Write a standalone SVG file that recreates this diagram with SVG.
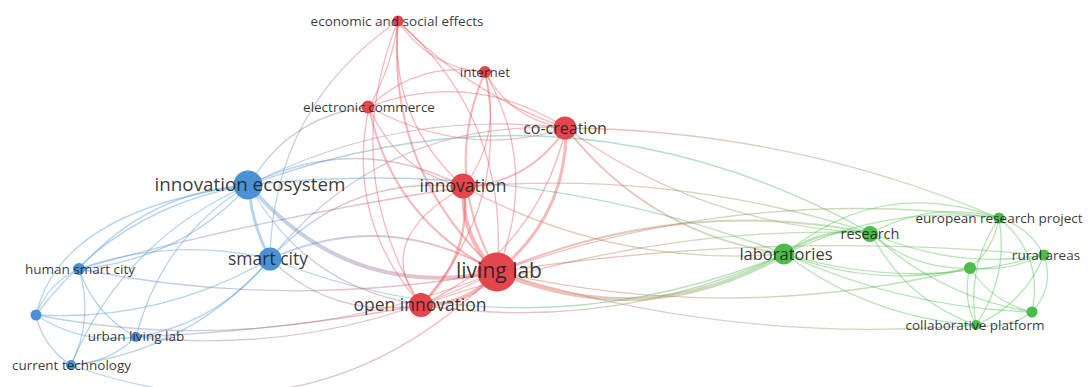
<svg xmlns="http://www.w3.org/2000/svg" width="1091" height="387" viewBox="0 0 1091 387">
<style>
.e path{fill:none;stroke-linecap:round}
.r{stroke:#e8474c;stroke-opacity:.38;stroke-width:1.3}
.b{stroke:#4a93d5;stroke-opacity:.4;stroke-width:1.3}
.g{stroke:#4fbf4f;stroke-opacity:.42;stroke-width:1.3}
.br{stroke:url(#gbr);stroke-opacity:.38;stroke-width:1.3}
.rg{stroke:url(#grg);stroke-opacity:.38;stroke-width:1.3}
.bg{stroke:url(#gbg);stroke-opacity:.42;stroke-width:1.3}
.nr{fill:#e3474d}
.nb{fill:#4a92d3}
.ng{fill:#4cbd4c}
text{font-family:"Open Sans","Liberation Sans",sans-serif;fill:#1e1e1e;fill-opacity:.9;text-anchor:middle}
.s{font-size:13.5px}
</style>
<defs>
<linearGradient id="gbr" x1="0" y1="0" x2="1" y2="0"><stop offset="0" stop-color="#4a93d5"/><stop offset="1" stop-color="#e8474c"/></linearGradient>
<linearGradient id="grg" x1="0" y1="0" x2="1" y2="0"><stop offset="0" stop-color="#e8474c"/><stop offset="1" stop-color="#4fbf4f"/></linearGradient>
<linearGradient id="gbg" x1="0" y1="0" x2="1" y2="0"><stop offset="0" stop-color="#4a93d5"/><stop offset="1" stop-color="#4fbf4f"/></linearGradient>
</defs>
<g id="connectors" class="e">
<path class="r" d="M398,21 Q392,67 369,107"/>
<path class="r" d="M398,21 Q429,68 485,72"/>
<path class="r" d="M398,21 Q389,120 464,187"/>
<path class="r" style="stroke-width:2" d="M398,21 Q386,170 497,272"/>
<path class="r" d="M398,21 Q510,120 497,272"/>
<path class="r" d="M398,21 Q469,94 566,128"/>
<path class="r" d="M398,21 Q338,169 421,305"/>
<path class="r" d="M369,107 Q418,60 485,72"/>
<path class="r" d="M369,107 Q472,68 566,128"/>
<path class="r" d="M369,107 Q467,160 566,128"/>
<path class="r" d="M369,107 Q396,171 464,187"/>
<path class="r" style="stroke-width:2" d="M369,107 Q392,220 497,272"/>
<path class="r" d="M369,107 Q345,219 421,305"/>
<path class="r" d="M485,72 Q511,120 566,128"/>
<path class="r" d="M464,187 Q503,135 485,72"/>
<path class="r" style="stroke-width:2" d="M485,72 Q441,174 497,272"/>
<path class="r" d="M485,72 Q540,169 497,272"/>
<path class="r" d="M421,305 Q511,204 485,72"/>
<path class="r" style="stroke-width:2" d="M464,187 Q530,183 566,128"/>
<path class="r" style="stroke-width:3" d="M497,272 Q567,216 566,128"/>
<path class="r" d="M421,305 Q537,252 566,128"/>
<path class="r" style="stroke-width:4" d="M464,187 Q460,237 497,272"/>
<path class="r" style="stroke-width:2.5" d="M421,305 Q472,257 464,187"/>
<path class="r" d="M464,187 Q370,240 421,305"/>
<path class="r" style="stroke-width:4" d="M421,305 Q468,306 497,272"/>
<path class="b" style="stroke-width:3" d="M249,185 Q251,223 270,259"/>
<path class="b" d="M79,269 Q147,192 249,185"/>
<path class="b" d="M79,269 Q181,260 249,185"/>
<path class="b" d="M36,315 Q116,207 249,185"/>
<path class="b" d="M36,315 Q60,210 249,185"/>
<path class="b" d="M136,337 Q162,237 249,185"/>
<path class="b" d="M71,365 Q124,239 249,185"/>
<path class="b" d="M79,269 Q172,236 270,259"/>
<path class="b" d="M36,315 Q160,322 270,259"/>
<path class="b" d="M136,337 Q217,324 270,259"/>
<path class="b" d="M71,365 Q190,351 270,259"/>
<path class="b" d="M36,315 Q48,283 79,269"/>
<path class="b" d="M79,269 Q94,314 136,337"/>
<path class="b" d="M71,365 Q94,319 79,269"/>
<path class="b" d="M36,315 Q82,345 136,337"/>
<path class="b" d="M36,315 Q43,347 71,365"/>
<path class="b" d="M71,365 Q109,363 136,337"/>
<path class="br" style="stroke-width:4" d="M249,185 Q347,301 497,272"/>
<path class="br" d="M249,185 Q357,131 464,187"/>
<path class="br" d="M249,185 Q399,108 566,128"/>
<path class="br" d="M249,185 Q290,115 369,107"/>
<path class="br" d="M249,185 Q305,287 421,305"/>
<path class="br" style="stroke-width:2" d="M270,259 Q385,207 497,272"/>
<path class="br" d="M270,259 Q333,320 421,305"/>
<path class="br" d="M270,259 Q348,174 464,187"/>
<path class="br" d="M270,259 Q384,119 566,128"/>
<path class="br" d="M270,259 Q273,107 398,21"/>
<path class="br" d="M79,269 Q288,311 497,272"/>
<path class="br" d="M79,269 Q250,220 464,187"/>
<path class="br" d="M36,315 Q273,361 497,272"/>
<path class="br" d="M71,365 Q314,453 497,272"/>
<path class="br" d="M136,337 Q326,357 497,272"/>
<path class="br" d="M136,337 Q290,330 421,305"/>
<path class="rg" style="stroke-width:4" d="M497,272 Q645,334 785,254"/>
<path class="rg" style="stroke-width:2" d="M497,272 Q678,195 871,233"/>
<path class="rg" d="M497,272 Q742,184 999,218"/>
<path class="rg" d="M497,272 Q733,326 970,268"/>
<path class="rg" d="M497,272 Q731,345 976,325"/>
<path class="rg" d="M497,272 Q770,230 1044,255"/>
<path class="rg" style="stroke-width:2" d="M566,128 Q650,235 785,254"/>
<path class="rg" d="M566,128 Q703,226 871,233"/>
<path class="rg" d="M566,128 Q791,130 999,218"/>
<path class="rg" d="M464,187 Q614,268 785,254"/>
<path class="rg" d="M464,187 Q672,169 871,233"/>
<path class="rg" d="M421,305 Q611,334 785,254"/>
<path class="rg" d="M421,305 Q653,224 871,233"/>
<path class="bg" d="M249,185 Q571,66 871,233"/>
<path class="bg" d="M249,185 Q525,155 785,254"/>
<path class="bg" d="M270,259 Q527,359 785,254"/>
<path class="g" style="stroke-width:2.5" d="M785,254 Q824,226 871,233"/>
<path class="g" d="M785,254 Q887,204 999,218"/>
<path class="g" d="M785,254 Q880,175 999,218"/>
<path class="g" d="M785,254 Q914,293 1044,255"/>
<path class="g" d="M785,254 Q875,289 970,268"/>
<path class="g" d="M785,254 Q870,318 976,325"/>
<path class="g" d="M785,254 Q903,308 1032,312"/>
<path class="g" d="M871,233 Q932,200 999,218"/>
<path class="g" d="M871,233 Q954,270 1044,255"/>
<path class="g" d="M871,233 Q913,270 970,268"/>
<path class="g" d="M871,233 Q905,300 976,325"/>
<path class="g" d="M871,233 Q940,297 1032,312"/>
<path class="g" d="M999,218 Q1029,227 1044,255"/>
<path class="g" d="M970,268 Q994,249 999,218"/>
<path class="g" d="M976,325 Q966,267 999,218"/>
<path class="g" d="M976,325 Q1009,276 999,218"/>
<path class="g" d="M999,218 Q1044,255 1032,312"/>
<path class="g" d="M970,268 Q1009,272 1044,255"/>
<path class="g" d="M976,325 Q1024,304 1044,255"/>
<path class="g" d="M1032,312 Q1055,287 1044,255"/>
<path class="g" d="M970,268 Q962,298 976,325"/>
<path class="g" d="M970,268 Q992,302 1032,312"/>
<path class="g" d="M976,325 Q1007,330 1032,312"/>
</g>
<g id="n-economic-and-social-effects"><circle class="nr" cx="398" cy="21" r="5.5"/><text class="s" x="397" y="25.5">economic and social effects</text></g>
<g id="n-internet"><circle class="nr" cx="485" cy="72" r="6"/><text class="s" x="485" y="76.5">internet</text></g>
<g id="n-electronic-commerce"><circle class="nr" cx="368" cy="107" r="6.5"/><text class="s" x="369" y="111.5">electronic commerce</text></g>
<g id="n-co-creation"><circle class="nr" cx="565" cy="128" r="11.5"/><text x="565" y="133.5" font-size="16">co-creation</text></g>
<g id="n-innovation"><circle class="nr" cx="463" cy="186" r="12.5"/><text x="463" y="192" font-size="17.5">innovation</text></g>
<g id="n-living-lab"><circle class="nr" cx="497" cy="272" r="19.5"/><text x="499" y="277.5" font-size="21">living lab</text></g>
<g id="n-open-innovation"><circle class="nr" cx="421" cy="305" r="12"/><text x="420" y="311" font-size="17.5">open innovation</text></g>
<g id="n-innovation-ecosystem"><circle class="nb" cx="248" cy="185" r="14.5"/><text x="250" y="191" font-size="18.8">innovation ecosystem</text></g>
<g id="n-smart-city"><circle class="nb" cx="270" cy="259" r="11.5"/><text x="268" y="265" font-size="17.5">smart city</text></g>
<g id="n-human-smart-city"><circle class="nb" cx="79" cy="269" r="6"/><text class="s" x="80" y="273.5">human smart city</text></g>
<g id="n-b1"><circle class="nb" cx="36" cy="315" r="5.5"/></g>
<g id="n-urban-living-lab"><circle class="nb" cx="136" cy="337" r="5"/><text class="s" x="136" y="341">urban living lab</text></g>
<g id="n-current-technology"><circle class="nb" cx="71" cy="365" r="5"/><text class="s" x="71.5" y="369.5">current technology</text></g>
<g id="n-laboratories"><circle class="ng" cx="784" cy="254" r="10.5"/><text x="786" y="259.5" font-size="16.5">laboratories</text></g>
<g id="n-research"><circle class="ng" cx="870" cy="234" r="8"/><text x="870" y="238.5" font-size="14.5">research</text></g>
<g id="n-european-research-project"><circle class="ng" cx="999" cy="218" r="5.5"/><text class="s" x="999" y="222.5">european research project</text></g>
<g id="n-rural-areas"><circle class="ng" cx="1044" cy="255" r="5.5"/><text class="s" x="1046" y="259.5">rural areas</text></g>
<g id="n-g1"><circle class="ng" cx="970" cy="268" r="6"/></g>
<g id="n-g2"><circle class="ng" cx="1032" cy="312" r="5.5"/></g>
<g id="n-collaborative-platform"><circle class="ng" cx="976" cy="325" r="5"/><text class="s" x="975" y="329.5">collaborative platform</text></g>
</svg>
